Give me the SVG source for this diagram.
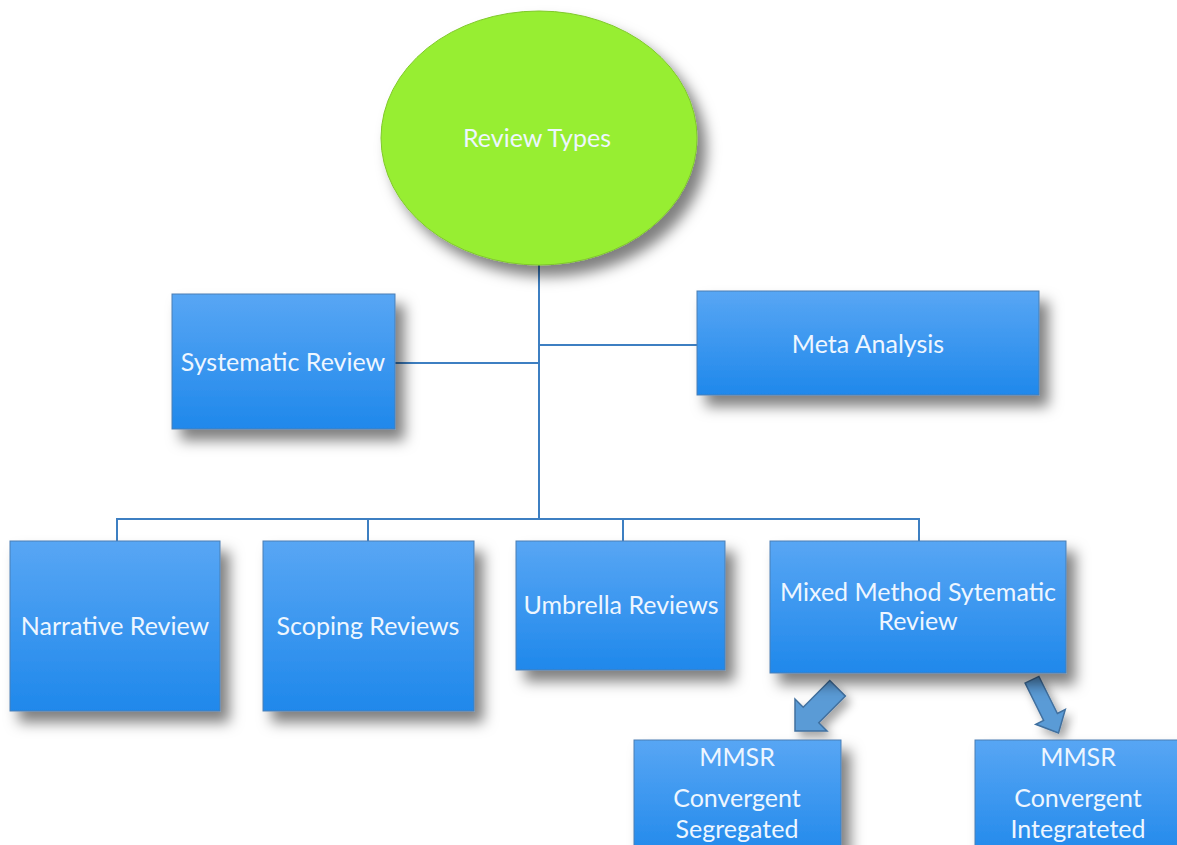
<svg xmlns="http://www.w3.org/2000/svg" width="1177" height="845" viewBox="0 0 1177 845">
  <defs>
    <linearGradient id="boxFill" x1="0" y1="0" x2="0" y2="1">
      <stop offset="0" stop-color="#58a6f4"/>
      <stop offset="1" stop-color="#1f88eb"/>
    </linearGradient>
    <filter id="shadow" x="-20%" y="-20%" width="150%" height="160%">
      <feDropShadow dx="9" dy="11" stdDeviation="7" flood-color="#000" flood-opacity="0.5"/>
    </filter>
    <filter id="softShadow" x="-20%" y="-20%" width="150%" height="160%">
      <feDropShadow dx="5" dy="6" stdDeviation="5" flood-color="#000" flood-opacity="0.35"/>
    </filter>
  </defs>
  <style>
    .box { fill: url(#boxFill); stroke: #4a7fb3; stroke-width: 1; filter: url(#shadow); }
    .oval { fill: #97ee31; stroke: #7fc82a; stroke-width: 1; filter: url(#shadow); }
    .label { font-family: Lato, "Liberation Sans", sans-serif; font-size: 25px; fill: #eef6ff; text-anchor: middle; dominant-baseline: central; }
    .link { fill: none; stroke: #3d7fc2; stroke-width: 2; }
    .blockArrow { fill: #5a9bd6; stroke: #41709f; stroke-width: 1.5; stroke-linejoin: miter; filter: url(#softShadow); }
  </style>

  <rect width="1177" height="845" fill="#ffffff"/>

  <!-- tree connectors -->
  <g id="connectors">
    <path class="link" d="M539 265 V519"/>
    <path class="link" d="M395 363 H539"/>
    <path class="link" d="M539 345 H697"/>
    <path class="link" d="M117 541 V519 H919 V541"/>
    <path class="link" d="M368 519 V541"/>
    <path class="link" d="M623 519 V541"/>
    <polygon class="blockArrow" points="795,731 827,731 818.8,722.8 845.4,696.1 829.8,680.5 803.2,707.2 795,699"/>
    <polygon class="blockArrow" points="1058.5,733 1065.3,709.5 1057.4,713.5 1038.9,676.4 1025.1,683.2 1043.6,720.3 1035.7,724.3"/>
  </g>

  <g id="review-types">
    <ellipse class="oval" cx="539" cy="138" rx="158" ry="127"/>
    <text class="label" x="537" y="137">Review Types</text>
  </g>

  <g id="systematic-review">
    <rect class="box" x="172" y="294" width="223" height="135"/>
    <text class="label" x="283" y="361">Systematic Review</text>
  </g>

  <g id="meta-analysis">
    <rect class="box" x="697" y="291" width="342" height="104"/>
    <text class="label" x="868" y="343">Meta Analysis</text>
  </g>

  <g id="narrative-review">
    <rect class="box" x="10" y="541" width="210" height="170"/>
    <text class="label" x="115" y="625">Narrative Review</text>
  </g>

  <g id="scoping-reviews">
    <rect class="box" x="263" y="541" width="211" height="170"/>
    <text class="label" x="368" y="625">Scoping Reviews</text>
  </g>

  <g id="umbrella-reviews">
    <rect class="box" x="516" y="541" width="209" height="129"/>
    <text class="label" x="621" y="604">Umbrella Reviews</text>
  </g>

  <g id="mixed-method">
    <rect class="box" x="770" y="541" width="296" height="132"/>
    <text class="label" x="918" y="591">Mixed Method Sytematic</text>
    <text class="label" x="918" y="620">Review</text>
  </g>

  <g id="mmsr-segregated">
    <rect class="box" x="634" y="740" width="207" height="120"/>
    <text class="label" x="737" y="756">MMSR</text>
    <text class="label" x="737" y="797">Convergent</text>
    <text class="label" x="737" y="828">Segregated</text>
  </g>

  <g id="mmsr-integrated">
    <rect class="box" x="975" y="740" width="210" height="120"/>
    <text class="label" x="1078" y="756">MMSR</text>
    <text class="label" x="1078" y="797">Convergent</text>
    <text class="label" x="1078" y="828">Integrateted</text>
  </g>
</svg>
